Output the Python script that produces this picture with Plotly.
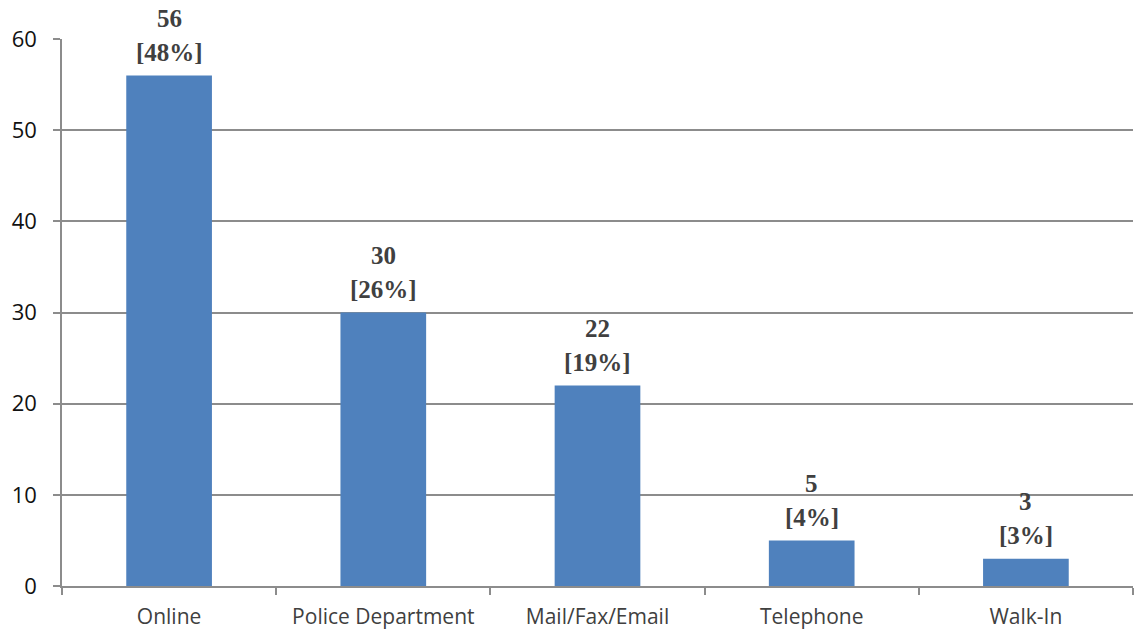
import plotly.graph_objects as go

# Complaint intake channels
categories = ["Online", "Police Department", "Mail/Fax/Email", "Telephone", "Walk-In"]
counts = [56, 30, 22, 5, 3]
shares = ["[48%]", "[26%]", "[19%]", "[4%]", "[3%]"]
y_ticks = [0, 10, 20, 30, 40, 50, 60]

BAR = "#4F81BD"
GRID = "#8C8C8C"
LABEL = "#404040"

fig = go.Figure(
    go.Bar(
        x=categories,
        y=counts,
        marker=dict(color=BAR, line=dict(width=0)),
        width=0.4,
        hoverinfo="skip",
    )
)

# Two-line value labels above each bar: count, then share
for cat, n, pct in zip(categories, counts, shares):
    fig.add_annotation(
        x=cat, y=n, text=f"<b>{pct}</b>", showarrow=False,
        yanchor="middle", yshift=23,
        font=dict(family="Liberation Serif", size=25, color=LABEL),
    )
    fig.add_annotation(
        x=cat, y=n, text=f"<b>{n}</b>", showarrow=False,
        yanchor="middle", yshift=57,
        font=dict(family="Liberation Serif", size=25, color=LABEL),
    )

fig.update_layout(
    width=1135,
    height=635,
    margin=dict(l=62, r=2, t=39, b=49),
    paper_bgcolor="white",
    plot_bgcolor="white",
    showlegend=False,
    bargap=0.6,
    font=dict(family="Open Sans", size=18, color="#222222"),
)

fig.update_xaxes(
    showline=True, linecolor=GRID, linewidth=1.5,
    ticks="outside", tickson="boundaries", ticklen=7, tickcolor=GRID, tickwidth=1.5,
    showgrid=False,
    ticklabelstandoff=11,
    tickfont=dict(family="Open Sans", size=21, color="#404040"),
)
fig.update_yaxes(
    range=[0, 60], tickvals=y_ticks,
    showline=True, linecolor=GRID, linewidth=1.5,
    ticks="outside", ticklen=7, tickcolor=GRID, tickwidth=1.5,
    showgrid=True, gridcolor=GRID, gridwidth=1.5,
    zeroline=False,
    ticklabelstandoff=12,
    tickfont=dict(family="Open Sans", size=22, color="#111111"),
)

fig.write_html("out.html")
